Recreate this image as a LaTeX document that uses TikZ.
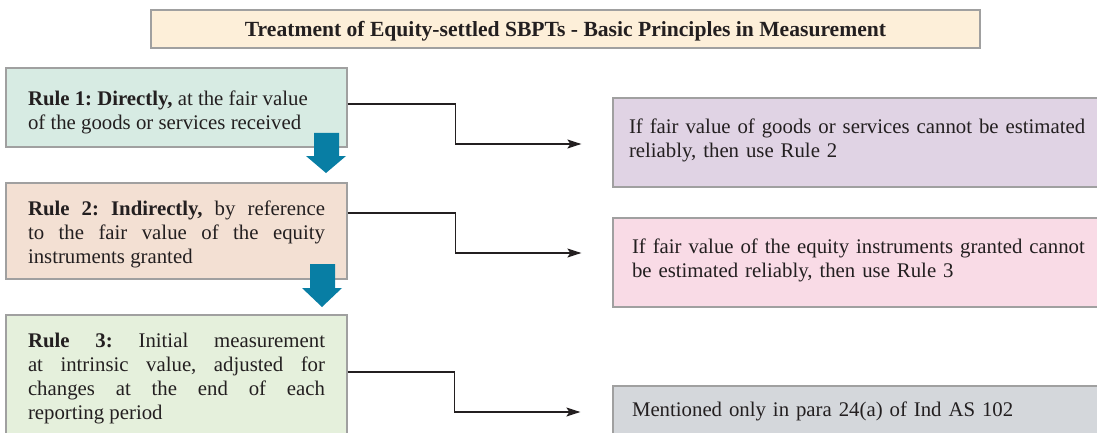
\documentclass[tikz,border=0pt]{standalone}
\usepackage{fontspec}
\setmainfont{Liberation Serif}
\usetikzlibrary{arrows.meta,calc}
\definecolor{titlefill}{RGB}{253,239,217}
\definecolor{ruleonefill}{RGB}{215,235,227}
\definecolor{ruletwofill}{RGB}{243,224,211}
\definecolor{rulethreefill}{RGB}{229,240,220}
\definecolor{infoonefill}{RGB}{224,211,228}
\definecolor{infotwofill}{RGB}{249,219,230}
\definecolor{infothreefill}{RGB}{212,215,219}
\definecolor{boxline}{RGB}{160,160,160}
\definecolor{txt}{RGB}{35,31,32}
\definecolor{arrowblue}{RGB}{8,126,164}
\frenchspacing
\newcommand{\ruletext}[2]{\begin{minipage}{297pt}\vspace*{#1}#2\end{minipage}}
\begin{document}
\begin{tikzpicture}[x=1pt,y=-1pt,
  box/.style={draw=boxline,line width=1.3pt,inner sep=0pt,
    font=\fontsize{20.8}{24}\selectfont,text=txt},
  rulebox/.style={box,minimum width=341pt},
  infobox/.style={box,minimum width=487pt,text width=455pt,align=left},
  conn/.style={draw=txt,line width=1.2pt,
    -{Stealth[length=14pt,width=9pt,inset=3pt]}},
  downarrow/.style={fill=arrowblue,draw=none}]
\useasboundingbox (0,0) rectangle (1097,433);
\clip (0,0) rectangle (1097,433);
\fill[white] (0,0) rectangle (1097,433);

\node[box,fill=titlefill,minimum width=829pt,minimum height=38pt,
  font=\fontsize{21.6}{24}\selectfont,text height=15pt,text depth=0pt] (title) at (565.5,29)
  {\textbf{Treatment of Equity-settled SBPTs - Basic Principles in Measurement}};

\node[rulebox,fill=ruleonefill,minimum height=79pt] (r1) at (176.5,107.5)
  {\ruletext{9pt}{\raggedright\textbf{Rule 1: Directly,} at the fair value\\of the goods or services received}};
\node[rulebox,fill=ruletwofill,minimum height=96pt] (r2) at (176.5,231)
  {\ruletext{7pt}{\textbf{Rule 2: Indirectly,} by reference\linebreak to the fair value of the equity\linebreak instruments granted}};
\node[rulebox,fill=rulethreefill,minimum height=124pt] (r3) at (176.5,377)
  {\ruletext{4pt}{\textbf{Rule 3:} Initial measurement\linebreak at intrinsic value, adjusted for\linebreak changes at the end of each\linebreak reporting period}};

\node[infobox,fill=infoonefill,minimum height=89pt] (b1) at (856.5,142.5)
  {\mbox{If fair value of goods or services cannot be estimated}\\
   \mbox{reliably, then use Rule 2}\par\vspace{4pt}};
\node[infobox,fill=infotwofill,minimum height=89pt] (b2) at (856.5,262.5)
  {\mbox{\hspace*{3pt}If fair value of the equity instruments granted cannot}\\
   \mbox{\hspace*{3pt}be estimated reliably, then use Rule 3}\par\vspace{4pt}};
\node[infobox,fill=infothreefill,minimum height=50pt] (b3) at (856.5,411)
  {\mbox{\hspace*{3pt}Mentioned only in para 24(a) of Ind AS 102}};

\fill[downarrow] (314,133) -- (339,133) -- (339,156) -- (346,156) -- (326,173)
  -- (306,156) -- (314,156) -- cycle;
\fill[downarrow] (310,264) -- (335,264) -- (335,288) -- (342,288) -- (322,307)
  -- (302,288) -- (310,288) -- cycle;

\draw[conn] ([yshift=3.5pt]r1.east) -- ++(108,0) |- ([xshift=-31pt,yshift=-1.5pt]b1.west);
\draw[conn] ([yshift=18pt]r2.east) -- ++(108,0) |- ([xshift=-31pt,yshift=9.5pt]b2.west);
\draw[conn] ([yshift=5pt]r3.east) -- ++(107,0) |- ([xshift=-32pt,yshift=-1pt]b3.west);
\end{tikzpicture}
\end{document}
